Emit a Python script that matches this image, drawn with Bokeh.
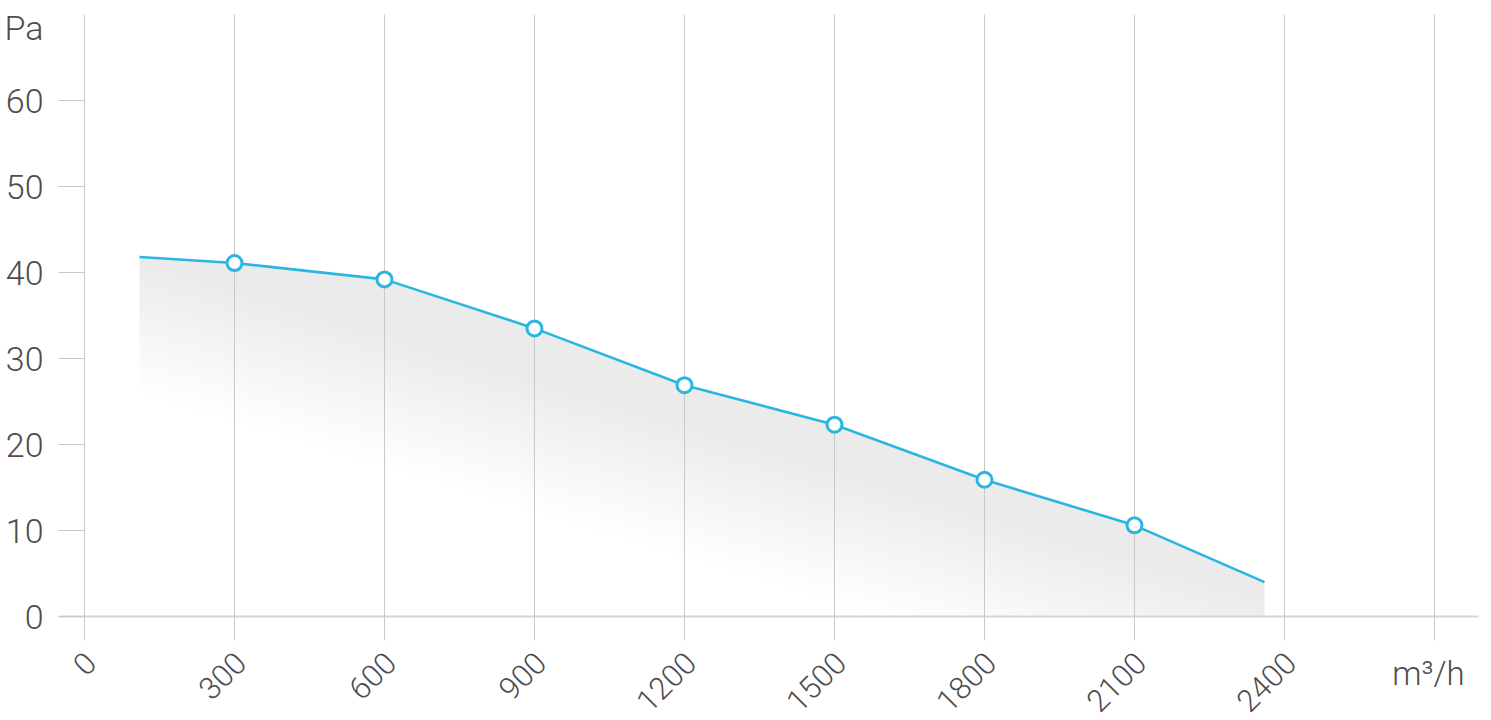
import numpy as np
from math import pi
from bokeh.plotting import figure
from bokeh.models import FixedTicker, Label, Range1d
from bokeh.core.properties import value
from bokeh.embed import file_html
from bokeh.resources import INLINE

# ---- data ----
flow = [110, 300, 600, 900, 1200, 1500, 1800, 2100, 2360]          # m3/h
pressure = [41.8, 41.1, 39.2, 33.5, 26.9, 22.3, 15.9, 10.6, 4.0]   # Pa
marker_flow = [300, 600, 900, 1200, 1500, 1800, 2100]
marker_pressure = [41.1, 39.2, 33.5, 26.9, 22.3, 15.9, 10.6]
x_ticks = [0, 300, 600, 900, 1200, 1500, 1800, 2100, 2400, 2700]
x_tick_labels = ["0", "300", "600", "900", "1200", "1500", "1800", "2100", "2400"]
y_ticks = [0, 10, 20, 30, 40, 50, 60]
x_unit = "m³/h"
y_unit = "Pa"

FONT = "Roboto Light"
TXT = "#4d4d4d"
GRID = "#c9c9c9"
CYAN = "#29b6e1"

# ---- layout constants (pixels) ----
W, H = 1491, 720
X0_PX, Y0_PX = 84, 616      # pixel position of the data origin
KX, KY = 0.5, 8.6           # pixels per data unit
AX_LEFT_PX, AX_RIGHT_PX, AX_TOP_PX = 58, 1478, 14
XLAB_DX_PX, XLAB_Y_PX = 6, 657   # anchor of the rotated x labels

XR = (-X0_PX / KX, (W - X0_PX) / KX)
YR = ((Y0_PX - H) / KY, Y0_PX / KY)
x_axis_left = (AX_LEFT_PX - X0_PX) / KX
x_axis_right = (AX_RIGHT_PX - X0_PX) / KX

p = figure(width=W, height=H, output_backend="svg", toolbar_location=None,
           x_range=Range1d(*XR), y_range=Range1d(*YR),
           min_border=0, min_border_left=0, min_border_right=0,
           min_border_top=0, min_border_bottom=0)
p.outline_line_color = None
p.background_fill_color = "white"
p.border_fill_color = "white"
p.xgrid.visible = False
p.ygrid.visible = False

# ---- gradient fill under the curve ----
xa, xb = min(flow), max(flow)
ya, yb = 0.0, max(pressure)
nx, ny = 560, 220
xs = xa + (np.arange(nx) + 0.5) / nx * (xb - xa)
ys = ya + (np.arange(ny) + 0.5) / ny * (yb - ya)
XX, YY = np.meshgrid(xs, ys)
px = (XX - xa) * KX
py = (yb - YY) * KY
g = py - 0.30 * px
t = np.clip(g / 135.0, 0, 1)
grey = (235 + 20 * t).astype(np.uint8)
img = np.empty((ny, nx), dtype=np.uint32)
view = img.view(dtype=np.uint8).reshape((ny, nx, 4))
view[:, :, 0] = grey
view[:, :, 1] = grey
view[:, :, 2] = grey
view[:, :, 3] = 255
p.image_rgba(image=[img], x=xa, y=ya, dw=xb - xa, dh=yb - ya, level="image")
# white mask above the curve (stroked white to hide the image edge seams)
mask_x = flow + [xb, xa]
mask_y = pressure + [yb, yb]
p.patch(mask_x, mask_y, fill_color="white", line_color="white", line_width=2, level="image")

# ---- curve ----
p.line(flow, pressure, line_color=CYAN, line_width=2.6)
p.scatter(marker_flow, marker_pressure, size=15, fill_color="white",
          line_color=CYAN, line_width=3)

# ---- x axis (its long inner ticks act as the vertical grid) ----
xax = p.xaxis[0]
xax.fixed_location = 0
xax.level = "underlay"
xax.bounds = (x_axis_left, x_axis_right)
xax.ticker = FixedTicker(ticks=x_ticks)
xax.axis_line_color = "#d6d6d6"
xax.axis_line_width = 2
xax.major_tick_line_color = GRID
xax.major_tick_line_width = 1
xax.major_tick_in = Y0_PX - AX_TOP_PX
xax.major_tick_out = 24
xax.minor_tick_line_color = None
xax.major_label_overrides = {tk: "" for tk in x_ticks}   # labels drawn below as rotated text
xax.major_label_text_color = None

# rotated x tick labels
lab_x = [tk + XLAB_DX_PX / KX for tk in x_ticks[:len(x_tick_labels)]]
lab_y = [(Y0_PX - XLAB_Y_PX) / KY] * len(x_tick_labels)
p.text(x=lab_x, y=lab_y, text=x_tick_labels, angle=pi / 4,
       text_align="right", text_baseline="middle",
       text_font=value(FONT), text_font_size=value("31px"), text_color=TXT)

# ---- y axis ----
yax = p.yaxis[0]
yax.fixed_location = x_axis_left
yax.level = "underlay"
yax.ticker = FixedTicker(ticks=y_ticks)
yax.axis_line_color = None
yax.major_tick_line_color = GRID
yax.major_tick_in = X0_PX - AX_LEFT_PX
yax.major_tick_out = 0
yax.minor_tick_line_color = None
yax.major_label_standoff = 15
yax.major_label_text_font = FONT
yax.major_label_text_font_size = "34px"
yax.major_label_text_color = TXT

# ---- unit labels ----
p.add_layout(Label(x=x_axis_left, y=(Y0_PX - 27.5) / KY, x_offset=-15, text=y_unit,
                   text_align="right", text_baseline="middle", text_font=FONT,
                   text_font_size="34px", text_color=TXT))
p.add_layout(Label(x=x_ticks[-1], y=(Y0_PX - 673) / KY, x_offset=-6, text=x_unit,
                   text_align="center", text_baseline="alphabetic", text_font=FONT,
                   text_font_size="33px", text_color=TXT))

open("out.html", "w").write(file_html(p, INLINE))
